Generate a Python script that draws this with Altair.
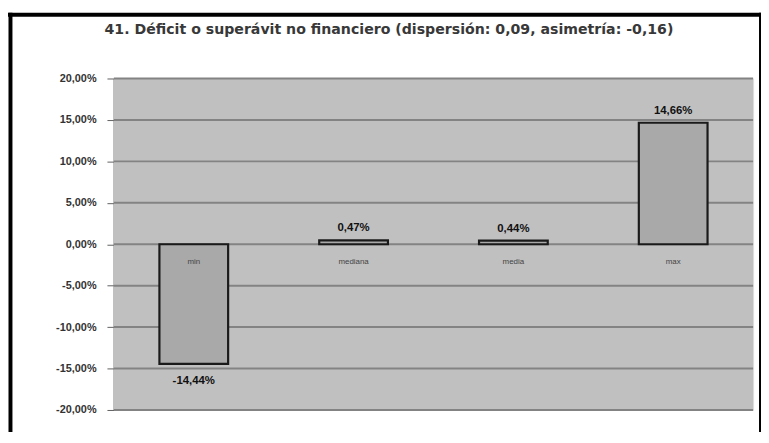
import altair as alt
import pandas as pd

categorias = ["min", "mediana", "media", "max"]
valores = [-14.44, 0.47, 0.44, 14.66]
etiquetas = ["-14,44%", "0,47%", "0,44%", "14,66%"]
ticks_y = [-20, -15, -10, -5, 0, 5, 10, 15, 20]

df = pd.DataFrame({"cat": categorias, "val": valores, "lab": etiquetas})
df["zero"] = 0.0
grid_df = pd.DataFrame({"v": ticks_y})

titulo = "41. Déficit o superávit no financiero  (dispersión: 0,09, asimetría: -0,16)"
one = pd.DataFrame({"t": [titulo]})

W, H = 646, 335

xs = alt.X("cat:N", sort=categorias, axis=None,
           scale=alt.Scale(paddingInner=0.57, paddingOuter=0.285))
ys = alt.Scale(domain=[-20, 20], nice=False)

base = alt.Chart(df)

# grey plot area
plot_bg = alt.Chart(one).mark_rect(color="#c0c0c0").encode(
    x=alt.value(0), x2=alt.value(W), y=alt.value(0), y2=alt.value(H))

grid = alt.Chart(grid_df).mark_rule(color="#838383", strokeWidth=2).encode(
    y=alt.Y("v:Q", scale=ys))

bars = base.mark_bar(color="#a9a9a9", stroke="#1a1a1a", strokeWidth=2.2).encode(
    x=xs,
    y=alt.Y("zero:Q", scale=ys, title=None,
            axis=alt.Axis(values=ticks_y,
                          labelExpr="replace(replace(format(datum.value/100, '.2%'), '.', ','), '\u2212', '-')",
                          grid=False,
                          domainColor="#606060", domainWidth=1.5,
                          tickColor="#606060", tickSize=7, labelPadding=11,
                          labelFont="Liberation Sans", labelFontSize=11,
                          labelFontWeight="bold", labelColor="#333333")),
    y2="val:Q",
)

cat_text = base.mark_text(fontSize=8, color="#444444", dy=18,
                          font="Liberation Sans").encode(
    x=xs, y=alt.Y("zero:Q", scale=ys), text="cat:N")

pos_text = base.transform_filter("datum.val >= 0").mark_text(
    fontSize=11.5, fontWeight="bold", color="#111111", dy=-12,
    font="Liberation Sans").encode(x=xs, y=alt.Y("val:Q", scale=ys), text="lab:N")

neg_text = base.transform_filter("datum.val < 0").mark_text(
    fontSize=11.5, fontWeight="bold", color="#111111", dy=17,
    font="Liberation Sans").encode(x=xs, y=alt.Y("val:Q", scale=ys), text="lab:N")

title_text = alt.Chart(one).mark_text(
    fontSize=14.3, fontWeight="bold", color="#383838", font="DejaVu Sans",
    align="center", baseline="middle").encode(
    x=alt.value(278), y=alt.value(-49), text="t:N")

# outer black frame of the original chart
frame_top = alt.Chart(one).mark_rule(color="#000000", strokeWidth=4).encode(
    x=alt.value(-107), x2=alt.value(W + 10), y=alt.value(-64.5))
frame_left = alt.Chart(one).mark_rule(color="#000000", strokeWidth=4).encode(
    x=alt.value(-104.5), y=alt.value(-66.5), y2=alt.value(380))
frame_right = alt.Chart(one).mark_rule(color="#000000", strokeWidth=4).encode(
    x=alt.value(W + 8), y=alt.value(-66.5), y2=alt.value(380))

chart = alt.layer(
    plot_bg, grid, bars, cat_text, pos_text, neg_text, title_text,
    frame_top, frame_left, frame_right
).properties(
    width=W, height=H,
    autosize=alt.AutoSizeParams(type="none"),
    padding={"left": 107, "top": 69, "right": 8, "bottom": 20},
).configure_view(stroke="transparent").configure(background="white")

chart.save("out.html", embed_options={"renderer": "svg", "actions": False})
